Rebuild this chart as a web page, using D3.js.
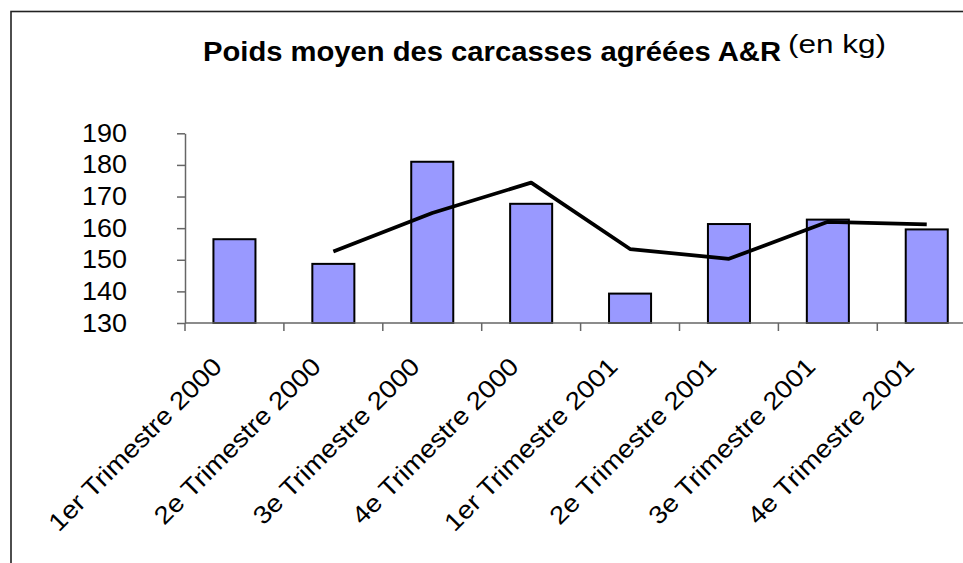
<!DOCTYPE html>
<html>
<head>
<meta charset="utf-8">
<script src="https://cdn.jsdelivr.net/npm/d3@7"></script>
<style>
  html, body { margin: 0; padding: 0; background: #fff; }
  svg { display: block; font-family: "Liberation Sans", Arial, sans-serif; }
</style>
</head>
<body>
<svg id="chart" width="963" height="563"></svg>
<script>
// Quarterly categories
const categories = [
  "1er Trimestre 2000", "2e Trimestre 2000", "3e Trimestre 2000", "4e Trimestre 2000",
  "1er Trimestre 2001", "2e Trimestre 2001", "3e Trimestre 2001", "4e Trimestre 2001"
];
// Average carcass weight (kg) per quarter
const poidsMoyen = [156.5, 148.7, 181.0, 167.7, 139.3, 161.3, 162.7, 159.6];
// Two-quarter moving average (no value for the first quarter)
const moyenneMobile = [null, 152.6, 164.8, 174.4, 153.4, 150.3, 162.0, 161.2];
// Y axis ticks
const yTicks = [130, 140, 150, 160, 170, 180, 190];

const titleMain = "Poids moyen des carcasses agréées A&R";
const titleUnit = "(en kg)";

const svg = d3.select("#chart");

// Outer frame (runs off the right and bottom edges)
svg.append("rect")
  .attr("x", 11).attr("y", 11.5)
  .attr("width", 1000).attr("height", 600)
  .attr("fill", "#fff")
  .attr("stroke", "#222").attr("stroke-width", 1.6);

const x = d3.scaleBand()
  .domain(categories)
  .range([185, 976.2])
  .paddingInner(0.575)
  .paddingOuter(0.2875);

const y = d3.scaleLinear()
  .domain([130, 190])
  .range([323, 133.3]);

// Title (bold part) and unit (smaller, raised)
svg.append("text")
  .attr("x", 203).attr("y", 61)
  .attr("font-weight", "bold")
  .attr("font-size", 27)
  .attr("textLength", 578)
  .attr("lengthAdjust", "spacingAndGlyphs")
  .attr("fill", "#000")
  .text(titleMain);
svg.append("text")
  .attr("x", 788).attr("y", 53)
  .attr("font-size", 25)
  .attr("textLength", 98)
  .attr("lengthAdjust", "spacingAndGlyphs")
  .attr("fill", "#000")
  .text(titleUnit);

// Bars
svg.append("g")
  .selectAll("rect")
  .data(categories)
  .join("rect")
  .attr("x", d => x(d))
  .attr("y", (d, i) => y(poidsMoyen[i]))
  .attr("width", x.bandwidth())
  .attr("height", (d, i) => y(130) - y(poidsMoyen[i]))
  .attr("fill", "#9999FF")
  .attr("stroke", "#000")
  .attr("stroke-width", 2);

// Y axis
const yAxis = svg.append("g")
  .attr("transform", "translate(185,0)")
  .call(d3.axisLeft(y).tickValues(yTicks).tickSize(8).tickSizeOuter(0));
yAxis.select(".domain").attr("stroke", "#666").attr("stroke-width", 1.5);
yAxis.selectAll(".tick line").attr("stroke", "#666").attr("stroke-width", 1.5);
yAxis.selectAll(".tick text")
  .attr("x", 127 - 185)
  .attr("font-size", 25)
  .attr("font-family", "Liberation Sans, Arial, sans-serif")
  .attr("textLength", 45)
  .attr("lengthAdjust", "spacingAndGlyphs")
  .attr("fill", "#000");

// X axis: tick marks at category boundaries
const xAxisG = svg.append("g").attr("transform", "translate(0,323)");
xAxisG.append("line")
  .attr("x1", 185).attr("x2", 976.2)
  .attr("stroke", "#666").attr("stroke-width", 1.5);
const step = x.step();
const bounds = d3.range(categories.length + 1).map(i => x.range()[0] + i * step);
xAxisG.selectAll("line.tk")
  .data(bounds)
  .join("line")
  .attr("class", "tk")
  .attr("x1", d => d).attr("x2", d => d)
  .attr("y1", 0).attr("y2", 8)
  .attr("stroke", "#666").attr("stroke-width", 1.5);

// Rotated category labels
svg.append("g")
  .selectAll("text")
  .data(categories)
  .join("text")
  .attr("transform", d => `translate(${x(d) + x.bandwidth() / 2 - 11},368) rotate(-45) scale(1.11,1)`)
  .attr("text-anchor", "end")
  .attr("font-size", 25)
  .attr("fill", "#000")
  .text(d => d);

// Moving-average line
const line = d3.line()
  .defined(d => d.v != null)
  .x(d => x(d.c) + x.bandwidth() / 2)
  .y(d => y(d.v));
svg.append("path")
  .datum(categories.map((c, i) => ({ c, v: moyenneMobile[i] })))
  .attr("d", line)
  .attr("fill", "none")
  .attr("stroke", "#000")
  .attr("stroke-width", 3.8)
  .attr("stroke-linejoin", "round");
</script>
</body>
</html>
